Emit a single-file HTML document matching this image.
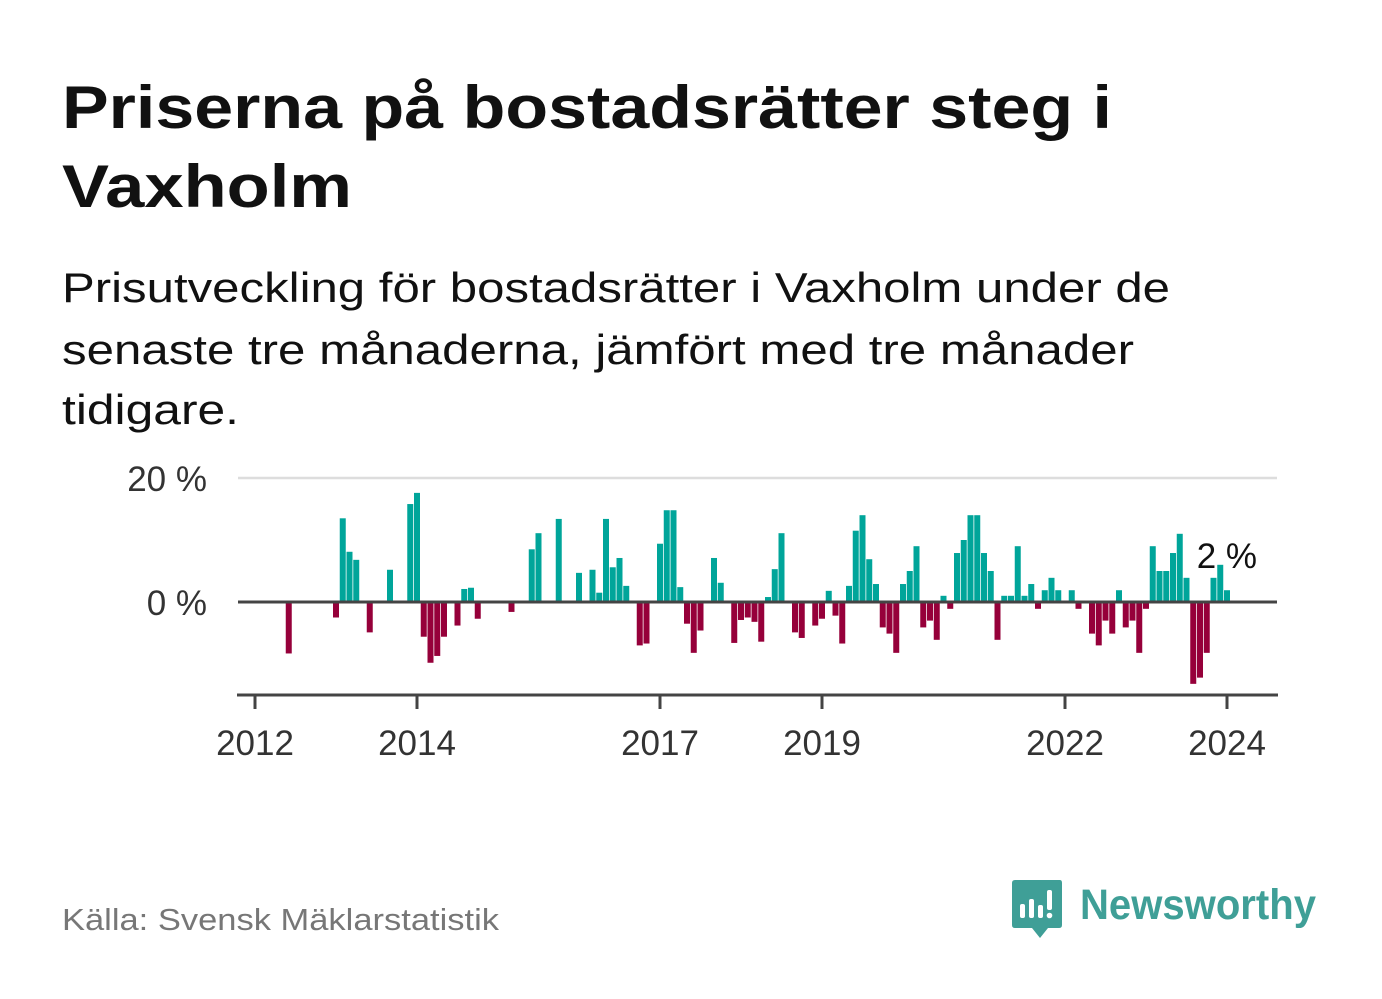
<!DOCTYPE html>
<html><head><meta charset="utf-8"><style>
body{margin:0;background:#fff;}
svg{display:block;font-family:"Liberation Sans",sans-serif;}
</style></head><body>
<svg id="chart" width="1382" height="999" viewBox="0 0 1382 999">
<rect width="1382" height="999" fill="#fff"/>
<text x="62" y="128" font-size="60" font-weight="bold" fill="#111" textLength="1050" lengthAdjust="spacingAndGlyphs">Priserna på bostadsrätter steg i</text>
<text x="62" y="207" font-size="60" font-weight="bold" fill="#111" textLength="290" lengthAdjust="spacingAndGlyphs">Vaxholm</text>
<text x="62" y="302" font-size="42" fill="#111" textLength="1108" lengthAdjust="spacingAndGlyphs">Prisutveckling för bostadsrätter i Vaxholm under de</text>
<text x="62" y="364" font-size="42" fill="#111" textLength="1072" lengthAdjust="spacingAndGlyphs">senaste tre månaderna, jämfört med tre månader</text>
<text x="62" y="424" font-size="42" fill="#111" textLength="177" lengthAdjust="spacingAndGlyphs">tidigare.</text>
<g id="plot"></g>
<text x="62" y="930" font-size="31" fill="#777" textLength="437" lengthAdjust="spacingAndGlyphs">Källa: Svensk Mäklarstatistik</text>
<g>
<path d="M1015 880 H1060 Q1062 880 1062 883 V925 Q1062 928 1059 928 H1048 L1040 938 L1032 928 H1015 Q1012 928 1012 925 V883 Q1012 880 1015 880 Z" fill="#3f9f97"/>
<rect x="1020" y="904" width="5" height="14" rx="2" fill="#fff"/>
<rect x="1029" y="899" width="5" height="19" rx="2" fill="#fff"/>
<rect x="1038" y="905" width="5" height="13" rx="2" fill="#fff"/>
<rect x="1047" y="890" width="5" height="20" rx="2" fill="#fff"/>
<circle cx="1049.5" cy="915.5" r="2.8" fill="#fff"/>
<text x="1080" y="919" font-size="43" font-weight="bold" fill="#3f9f97" textLength="236" lengthAdjust="spacingAndGlyphs">Newsworthy</text>
</g>
</svg>
<script>
const startYear = 2012;
const values = [null,null,null,null,null,-8.3,null,null,null,null,null,null,
-2.5,13.5,8.1,6.8,null,-4.9,null,null,5.2,null,null,15.8,
17.6,-5.6,-9.8,-8.7,-5.6,null,-3.8,2.1,2.3,-2.7,null,null,
null,null,-1.6,null,null,8.5,11.1,null,null,13.4,null,null,
4.7,null,5.2,1.5,13.4,5.6,7.1,2.6,null,-7.0,-6.7,null,
9.4,14.8,14.8,2.4,-3.5,-8.2,-4.6,null,7.1,3.1,null,-6.6,
-2.9,-2.5,-3.2,-6.4,0.8,5.3,11.1,null,-4.9,-5.8,null,-3.8,
-2.7,1.8,-2.2,-6.7,2.6,11.5,14.0,6.9,2.9,-4.1,-5.1,-8.2,
2.9,5.0,9.0,-4.1,-3.0,-6.1,1.0,-1.1,7.9,10.0,14.0,14.0,
7.9,5.0,-6.1,1.0,1.0,9.0,1.0,2.9,-1.1,1.9,3.9,1.9,
null,1.9,-1.1,null,-5.1,-7.0,-3.0,-5.1,1.9,-4.1,-3.0,-8.2,
-1.1,9.0,5.0,5.0,7.9,11.0,3.9,-13.2,-12.2,-8.2,3.9,6.0,
1.9];
const yTicks = [0, 20];
const yTickLabels = ["0 %", "20 %"];
const xTickYears = [2012, 2014, 2017, 2019, 2022, 2024];
const lastLabel = "2 %";

const NS = "http://www.w3.org/2000/svg";
const g = document.getElementById('plot');
const x = m => 255 + m * (81 / 12);
const y = v => 602 - v * 6.2;
function mk(tag, attrs){const e=document.createElementNS(NS,tag);for(const k in attrs)e.setAttribute(k,attrs[k]);g.appendChild(e);return e;}

yTicks.forEach((t,i)=>{
  if(t!==0){
    const l = mk('line',{x1:238,x2:1277,y1:y(t),y2:y(t),stroke:'#ddd','stroke-width':2.5});
    
    
  }
  const tx = mk('text',{x:207,y:y(t)+13,'text-anchor':'end','font-size':35,fill:'#333'});
  tx.textContent = yTickLabels[i];
  
  
});

values.forEach((v,i)=>{
  if(v===null) return;
  const top = v>=0 ? y(v) : y(0);
  const h = Math.abs(y(v)-y(0));
  const r = mk('rect',{x:x(i)-3,y:top,width:6,height:h,fill: v>=0?'#00a59a':'#96003a'});
  
  
});

const zl = mk('line',{x1:238,x2:1277,y1:y(0),y2:y(0),stroke:'#444','stroke-width':3});



const ax = mk('line',{x1:237,x2:1278,y1:695,y2:695,stroke:'#444','stroke-width':3});



xTickYears.forEach(yr=>{
  const px = x((yr-startYear)*12);
  const tk = mk('line',{x1:px,x2:px,y1:695,y2:709,stroke:'#444','stroke-width':3});
  
  
  const tl = mk('text',{x:px,y:755,'text-anchor':'middle','font-size':35,fill:'#333'});
  tl.textContent = yr;
  
  
});

const li = values.length-1;
const lab = mk('text',{x:x(li)+30,y:y(values[li])-22,'text-anchor':'end','font-size':35,fill:'#111',stroke:'#fff','stroke-width':4,'paint-order':'stroke'});
lab.textContent = lastLabel;


</script>
</body></html>
